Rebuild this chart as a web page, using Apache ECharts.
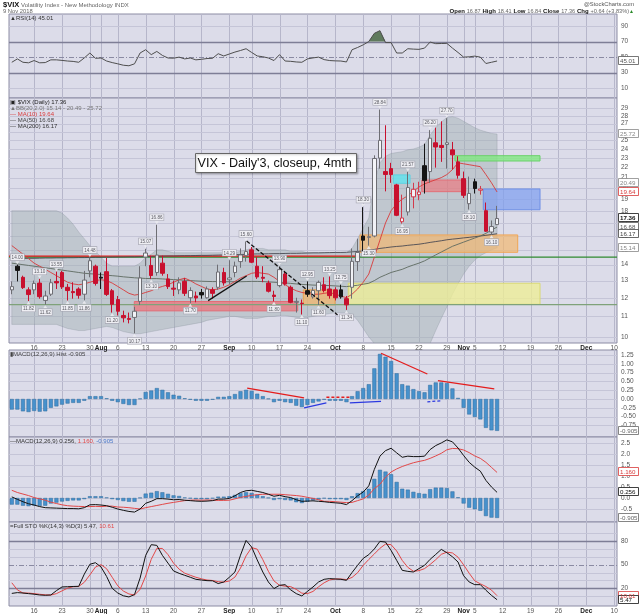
<!DOCTYPE html>
<html><head><meta charset="utf-8">
<script src="https://cdn.jsdelivr.net/npm/echarts@6/dist/echarts.min.js"></script>
<style>html,body{margin:0;padding:0;background:#fff}#c{width:640px;height:614px}</style>
</head><body><div id="c"></div>
<script>
// ---------- categories (trading days, incl. future weekdays shown on the axis) ----------
const dates = [
'07-10','07-11','07-12','07-13','07-16','07-17','07-18','07-19','07-20','07-23','07-24','07-25','07-26','07-27','07-30','07-31',
'08-01','08-02','08-03','08-06','08-07','08-08','08-09','08-10','08-13','08-14','08-15','08-16','08-17','08-20','08-21','08-22','08-23','08-24','08-27','08-28','08-29','08-30','08-31',
'09-04','09-05','09-06','09-07','09-10','09-11','09-12','09-13','09-14','09-17','09-18','09-19','09-20','09-21','09-24','09-25','09-26','09-27','09-28',
'10-01','10-02','10-03','10-04','10-05','10-08','10-09','10-10','10-11','10-12','10-15','10-16','10-17','10-18','10-19','10-22','10-23','10-24','10-25','10-26','10-29','10-30','10-31',
'11-01','11-02','11-05','11-06','11-07','11-08','11-09','11-12','11-13','11-14','11-15','11-16','11-19','11-20','11-21','11-22','11-23','11-26','11-27','11-28','11-29','11-30',
'12-03','12-04','12-05','12-06','12-07','12-10'];
const tickLabels = {'07-16':'16','07-23':'23','07-30':'30','08-01':'Aug','08-06':'6','08-13':'13','08-20':'20','08-27':'27',
 '09-04':'Sep','09-10':'10','09-17':'17','09-24':'24','10-01':'Oct','10-08':'8','10-15':'15','10-22':'22','10-29':'29',
 '11-01':'Nov','11-05':'5','11-12':'12','11-19':'19','11-26':'26','12-03':'Dec','12-10':'10'};
const monthTicks = ['08-01','09-04','10-01','11-01','12-03'];

// ---------- price data [open, close, low, high] ----------
const ohlc = [
[12.45,12.64,12.20,12.95],[13.90,13.63,12.95,14.00],[13.20,12.58,12.50,13.30],[12.45,12.18,11.82,12.60],[12.45,12.83,12.20,13.00],
[12.85,12.06,11.95,13.10],[11.85,12.10,11.62,12.40],[12.20,12.87,12.10,13.10],[12.95,12.86,12.50,13.55],[13.50,12.62,12.50,13.60],
[12.60,12.41,11.85,12.80],[12.35,12.29,11.95,12.90],[12.50,12.14,11.95,12.60],[12.20,13.03,11.86,13.60],[13.60,14.26,13.20,14.48],
[13.90,12.83,12.70,14.00],[13.20,13.15,12.50,13.50],[13.55,12.19,12.10,14.45],[12.40,11.64,11.20,12.50],[11.90,11.27,11.05,12.10],
[11.05,10.93,10.70,11.30],[10.90,10.85,10.65,11.20],[10.95,11.27,10.17,11.50],[11.80,13.16,11.60,13.90],[14.50,14.78,13.90,15.07],
[13.95,13.31,13.10,14.60],[13.50,14.64,13.30,16.86],[14.10,13.45,13.30,14.60],[13.10,12.64,12.50,13.40],[12.55,12.49,12.10,13.00],
[12.45,12.86,12.20,13.20],[12.95,12.25,12.10,13.15],[12.00,12.41,11.70,12.60],[12.10,11.99,11.75,12.35],[12.30,12.16,11.95,12.50],
[12.00,12.50,11.95,12.65],[12.45,12.25,11.95,12.60],[12.60,13.53,12.45,14.00],[13.50,12.86,12.70,13.80],[13.05,13.16,12.80,14.29],
[13.50,13.91,13.20,14.20],[14.20,14.65,13.80,15.10],[14.60,14.88,14.20,15.60],[15.00,14.16,14.10,15.20],[13.90,13.22,13.10,14.50],
[13.20,13.14,12.90,13.90],[12.85,12.37,12.30,13.00],[12.15,12.07,11.80,12.40],[12.70,13.68,12.60,13.90],[13.40,12.79,12.70,13.60],
[12.60,11.75,11.70,12.70],[11.75,11.80,11.20,12.00],[11.70,11.68,11.10,11.90],[12.40,12.20,12.05,12.95],[12.05,12.42,11.95,12.60],
[12.40,12.89,11.60,13.00],[12.75,12.41,12.30,13.20],[12.50,12.12,11.95,13.25],[12.45,12.00,11.85,12.60],[12.45,12.05,11.95,12.75],
[11.95,11.61,11.34,12.10],[12.60,14.22,11.95,15.10],[14.20,14.82,13.60,15.80],[16.00,15.69,14.90,18.30],[15.90,15.95,15.30,16.70],
[16.00,22.96,15.90,23.30],[23.00,24.98,21.90,28.84],[21.60,21.31,19.70,26.80],[21.90,21.30,20.50,22.50],[20.30,17.62,17.55,20.40],
[17.10,17.40,16.95,19.40],[17.90,20.06,17.60,21.57],[19.20,19.89,18.20,20.50],[19.40,19.64,18.90,20.60],[22.20,20.71,19.50,24.60],
[21.60,25.23,20.50,26.20],[24.70,24.22,22.00,26.50],[24.40,24.16,22.60,27.30],[24.50,24.70,21.90,27.70],[23.90,23.35,21.80,24.80],
[22.60,21.23,20.90,23.20],[20.90,19.34,19.10,21.60],[18.60,19.51,18.10,21.10],[20.60,19.96,19.50,20.90],[19.80,19.91,19.40,20.20],
[18.00,16.36,16.30,18.70],[16.30,16.72,16.10,17.20],[16.87,17.36,16.84,18.41]];

const bbUpper = [18.0,18.0,18.0,18.0,18.0,18.0,18.0,18.0,18.0,17.8,
 17.4,16.9,16.3,15.8,15.3,14.9,14.5,14.1,13.9,13.9,
 13.9,13.9,13.9,14.1,14.5,14.7,15.0,15.0,14.9,14.8,
 14.8,14.8,14.8,14.8,14.8,14.8,14.8,14.8,14.8,14.8,
 14.8,14.9,15.0,15.1,15.1,15.1,15.0,15.0,15.0,15.0,
 14.9,14.9,14.9,14.8,14.8,14.8,14.8,14.8,14.8,14.8,
 14.8,15.1,15.8,16.6,17.4,20.5,22.5,23.2,23.5,23.6,
 23.7,23.9,24.0,24.2,24.5,25.6,26.5,27.2,27.8,27.9,
 27.7,27.3,26.9,26.5,26.2,26.0,25.8,25.72];
const bbLower = [10.6,10.6,10.6,10.6,10.6,10.6,10.6,10.6,10.6,10.5,
 10.4,10.35,10.3,10.3,10.35,10.4,10.45,10.5,10.45,10.35,
 10.25,10.2,10.15,10.15,10.2,10.25,10.3,10.35,10.4,10.45,
 10.5,10.55,10.6,10.65,10.7,10.8,10.85,10.9,10.95,11.0,
 11.0,10.95,10.9,10.9,10.9,10.95,11.0,11.0,11.05,11.05,
 11.0,10.95,10.9,10.95,11.0,11.05,11.1,11.15,11.2,11.2,
 11.2,11.1,10.8,10.4,10.0,9.7,9.7,9.7,9.7,9.7,
 9.7,9.7,9.7,9.7,9.7,9.7,10.3,10.9,11.5,12.2,
 12.8,13.4,13.9,14.3,14.6,14.8,15.0,15.14];
const ma10 = [15.3,15.0,14.7,14.4,14.1,13.9,13.7,13.5,13.3,13.1,
 12.9,12.8,12.75,12.8,12.9,13.0,13.05,13.0,12.85,12.65,
 12.45,12.25,12.15,12.2,12.3,12.4,12.55,12.65,12.75,12.9,
 13.05,13.15,13.0,12.8,12.65,12.5,12.45,12.5,12.6,12.75,
 12.95,13.15,13.3,13.45,13.5,13.45,13.4,13.2,12.95,12.75,
 12.55,12.4,12.3,12.25,12.2,12.2,12.25,12.3,12.2,12.1,
 12.0,12.2,12.5,12.9,13.4,14.5,15.7,17.0,18.0,18.6,
 19.0,19.3,19.7,20.1,20.4,20.6,20.8,21.0,21.3,21.8,
 22.5,22.4,22.3,22.2,22.1,21.3,20.5,19.64];
const ma50 = [14.1,14.05,14.0,13.95,13.9,13.85,13.8,13.75,13.7,13.65,
 13.6,13.55,13.5,13.45,13.42,13.4,13.37,13.33,13.3,13.27,
 13.23,13.2,13.17,13.15,13.13,13.12,13.12,13.1,13.08,13.06,
 13.04,13.02,13.0,12.98,12.96,12.95,12.94,12.94,12.93,12.93,
 12.93,12.93,12.94,12.95,12.95,12.94,12.92,12.9,12.88,12.86,
 12.83,12.8,12.77,12.75,12.73,12.72,12.71,12.7,12.68,12.66,
 12.64,12.68,12.72,12.78,12.84,13.0,13.2,13.35,13.5,13.6,
 13.7,13.85,13.98,14.1,14.25,14.45,14.65,14.85,15.05,15.25,
 15.4,15.55,15.7,15.85,16.0,16.2,16.45,16.68];
const ma200 = [14.40,14.41,14.41,14.42,14.42,14.43,14.44,14.44,14.45,14.45,
 14.46,14.46,14.47,14.47,14.48,14.49,14.49,14.50,14.50,14.51,
 14.51,14.52,14.52,14.53,14.54,14.55,14.56,14.57,14.58,14.58,
 14.59,14.60,14.60,14.61,14.62,14.62,14.63,14.64,14.65,14.66,
 14.67,14.68,14.69,14.71,14.72,14.72,14.73,14.74,14.74,14.75,
 14.76,14.76,14.77,14.78,14.79,14.79,14.80,14.81,14.82,14.82,
 14.83,14.86,14.89,14.93,14.97,15.03,15.10,15.15,15.20,15.24,
 15.27,15.32,15.36,15.40,15.46,15.53,15.59,15.65,15.72,15.77,
 15.81,15.86,15.90,15.95,16.00,16.05,16.11,16.17];

// ---------- indicators ----------
const rsi = [43.4,47.7,43.4,42.7,45.6,42.7,43.0,46.5,46.5,45.8,
 45.0,44.5,43.4,49.0,55.3,48.5,48.9,45.0,43.0,41.4,
 39.6,38.9,41.4,55.3,59.5,53.2,57.3,52.2,48.9,48.6,
 50.0,47.7,48.9,46.5,47.2,48.2,48.5,54.4,51.5,54.0,
 56.5,58.5,60.8,56.0,51.5,50.5,48.9,45.6,53.2,45.0,
 44.6,43.8,43.4,47.7,49.0,50.0,46.8,45.6,45.2,45.0,
 43.8,59.5,62.4,65.8,70.0,80.6,84.0,68.7,68.7,55.3,
 55.3,60.8,60.3,60.0,61.6,69.4,67.3,67.5,67.7,61.6,
 56.0,50.0,50.4,51.3,50.0,41.8,43.4,45.01];
const macdHist = [-0.30,-0.30,-0.35,-0.37,-0.34,-0.36,-0.35,-0.25,-0.21,-0.16,
 -0.13,-0.11,-0.11,-0.05,0.08,0.08,0.08,0.02,-0.05,-0.09,
 -0.14,-0.17,-0.17,0.01,0.20,0.24,0.31,0.26,0.19,0.12,
 0.09,0.02,-0.02,-0.05,-0.05,-0.05,-0.02,0.06,0.06,0.08,
 0.14,0.22,0.26,0.23,0.15,0.08,0.01,-0.09,-0.05,-0.09,
 -0.11,-0.19,-0.23,-0.17,-0.11,-0.07,-0.02,-0.05,-0.05,-0.05,
 -0.09,0.08,0.22,0.31,0.42,0.87,1.28,1.20,1.08,0.73,
 0.42,0.38,0.28,0.22,0.19,0.40,0.47,0.47,0.45,0.30,
 0.03,-0.25,-0.44,-0.51,-0.58,-0.82,-0.89,-0.905];
const macdLine = [0.05,-0.06,-0.17,-0.26,-0.32,-0.39,-0.44,-0.45,-0.46,-0.47,
 -0.48,-0.48,-0.49,-0.44,-0.31,-0.30,-0.32,-0.35,-0.42,-0.50,
 -0.56,-0.61,-0.64,-0.50,-0.24,-0.15,-0.03,-0.03,-0.05,-0.08,
 -0.07,-0.10,-0.12,-0.14,-0.15,-0.14,-0.12,-0.05,-0.05,-0.02,
 0.10,0.25,0.33,0.35,0.30,0.25,0.17,0.08,0.12,0.06,
 0.02,-0.08,-0.15,-0.14,-0.13,-0.15,-0.17,-0.20,-0.22,-0.24,
 -0.30,-0.12,0.10,0.27,0.55,1.30,1.90,2.15,2.26,2.05,
 1.85,1.90,1.88,1.88,1.90,2.20,2.38,2.50,2.64,2.55,
 2.27,1.93,1.62,1.40,1.22,0.80,0.50,0.256];
const macdSignal = [0.35,0.25,0.18,0.11,0.02,-0.04,-0.10,-0.19,-0.25,-0.31,
 -0.35,-0.37,-0.38,-0.39,-0.39,-0.38,-0.39,-0.37,-0.37,-0.41,
 -0.42,-0.44,-0.47,-0.50,-0.44,-0.39,-0.34,-0.29,-0.24,-0.20,
 -0.16,-0.12,-0.10,-0.09,-0.10,-0.09,-0.10,-0.11,-0.11,-0.10,
 -0.04,0.03,0.07,0.12,0.15,0.17,0.17,0.17,0.17,0.15,
 0.13,0.11,0.08,0.03,-0.02,-0.08,-0.15,-0.15,-0.17,-0.19,
 -0.21,-0.20,-0.12,-0.04,0.13,0.43,0.62,0.95,1.18,1.32,
 1.43,1.52,1.60,1.66,1.71,1.80,1.91,2.03,2.19,2.25,
 2.24,2.18,2.06,1.91,1.80,1.62,1.39,1.16];
const stoK = [13.5,14.5,14.0,13.2,12.5,11.5,11.1,11.5,17.0,21.7,
 22.0,22.3,22.5,38.0,50.5,52.5,47.0,35.0,20.0,14.0,
 10.5,9.0,12.0,33.0,61.8,75.4,74.5,61.8,52.0,42.0,
 39.0,36.5,34.0,31.4,30.5,29.7,29.5,26.0,28.0,34.0,
 40.7,62.0,80.8,72.4,56.0,40.7,28.0,19.6,23.8,24.6,
 18.0,13.2,10.3,16.0,21.7,28.0,31.4,32.3,31.8,31.4,
 30.1,40.0,49.2,58.0,62.7,70.0,79.6,78.7,68.0,55.5,
 42.8,41.5,40.7,45.0,49.2,56.8,63.0,69.4,65.2,60.0,
 53.4,36.0,28.0,24.6,24.6,17.5,11.0,5.47];
const stoD = [27.0,18.0,14.0,13.9,13.2,12.4,11.7,11.4,13.2,16.7,
 20.2,22.0,22.3,27.6,37.0,47.0,50.0,44.8,34.0,23.1,
 16.5,12.8,11.5,18.5,35.6,56.8,70.6,70.6,62.8,51.9,
 44.3,39.2,36.5,34.0,32.0,30.5,29.9,28.4,27.8,29.3,
 34.2,45.6,61.2,71.7,69.7,56.4,41.6,29.4,23.8,22.7,
 22.1,18.6,13.8,13.2,16.0,21.9,27.0,30.6,31.8,31.8,
 31.1,33.8,39.8,49.1,56.6,63.6,70.8,76.1,75.4,67.4,
 55.4,46.6,41.7,42.4,45.0,50.3,56.3,63.1,65.9,64.9,
 59.5,49.8,39.1,29.5,25.7,22.2,17.7,10.61];

// ---------- tick values ----------
const rsiTicks = [10,30,50,70,90];
const priceTicks = [10,11,12,13,14,15,16,17,18,19,20,21,22,23,24,25,26,27,28,29];
const histTicks = [-0.75,-0.5,-0.25,0,0.25,0.5,0.75,1.0,1.25];
const macdTicks = [-0.5,0,0.5,1.0,1.5,2.0,2.5];
const stoTicks = [20,50,80];

// ---------- chart annotations (day index, price) ----------
const zoneBoxes = [
 [21.96,51.26,11.29,11.79],[52.26,57.95,11.61,12.45],[60.33,94.7,11.64,12.84],[62.43,90.7,14.83,16.08],
 [68.4,71.4,20.45,21.27],[73.5,81.4,19.67,20.77],[79.46,94.7,22.69,23.26],[84.53,94.7,18.08,19.92]];
const zoneStyles = [
 ['rgba(238,112,118,0.70)','#e36a74'],['rgba(242,182,104,0.72)','#eda24a'],['rgba(238,238,150,0.78)','#d9d974'],
 ['rgba(242,184,112,0.70)','#f0a654'],['rgba(100,226,236,0.85)','#5fd2e0'],['rgba(236,120,126,0.68)','#e27078'],
 ['rgba(130,232,130,0.80)','#6bd06b'],['rgba(128,160,240,0.72)','#6f8fe6']];
const trendLines = [[[35.2,11.84],[42.1,13.28]],[[42.1,15.64],[58.4,11.08]]];
const levelLines = [[-0.5,62.3,14.57],[-0.5,108.5,14.50],[-0.5,108.5,11.62]];
const histLines = [[[42.2,0.31],[52.4,0.03]],[[66.2,1.30],[74.5,0.71]],[[76.4,0.52],[86.5,0.29]],[[56.4,0.05],[60.8,0.05]],
 [[52.4,-0.25],[56.4,-0.11]],[[60.6,-0.11],[66.2,-0.07]],[[74.5,-0.08],[77.1,-0.05]]];
const highTags = [1,5,8,14,24,26,39,42,48,53,57,59,63,66,71,75,78];
const lowTags = [3,6,10,13,18,22,25,32,47,52,55,60,64,70,82,86];

// ================= build =================
const FONT = 'Liberation Sans, Arial, sans-serif';
const chart = echarts.init(document.getElementById('c'));
const gridDefs = [[14,84],[98,245],[350,87],[437,85],[522,84]];
const grids = gridDefs.map(([t,h]) => ({left:9, right:23, top:t, height:h, show:true, backgroundColor:'#dcdce9',
  borderColor:'#8c8ca4', borderWidth:1, containLabel:false, outerBoundsMode:'none'}));
const xAxes = gridDefs.map((g,k) => ({type:'category', gridIndex:k, data:dates, boundaryGap:true,
  axisLine:{show:false}, axisTick:{show:false}, splitLine:{show:false},
  axisLabel:(k===1||k===4) ? {show:true, interval:(i,v)=>!!tickLabels[v], margin:2, fontSize:6.5, color:'#555', fontFamily:FONT,
    formatter:v => monthTicks.includes(v) ? '{m|'+tickLabels[v]+'}' : (tickLabels[v]||''),
    rich:{m:{fontWeight:'bold', color:'#222', fontSize:6.5, fontFamily:FONT}}} : {show:false}}));
xAxes.push({type:'value', gridIndex:1, min:-0.5, max:108.5, show:false});
xAxes.push({type:'value', gridIndex:2, min:-0.5, max:108.5, show:false});
const yAxes = [
 {type:'value', gridIndex:0, min:-2.5, max:105.4, show:false},
 {type:'log', gridIndex:1, logBase:10, min:9.72, max:30.43, show:false},
 {type:'value', gridIndex:2, min:-1.08, max:1.392, show:false},
 {type:'value', gridIndex:3, min:-1.09, max:2.77, show:false},
 {type:'value', gridIndex:4, min:-2.5, max:104.2, show:false}];

const LSTY = {l:{stroke:'#c5c5d7', lineWidth:1}, d:{stroke:'#7e7e96', lineWidth:1.3}, dd:{stroke:'#8a8aa2', lineWidth:1, lineDash:[5,2,1,2]}};
function gridSeries(k, levels){
  return {type:'custom', xAxisIndex:k, yAxisIndex:k, data:[0], silent:true, z:1,
    renderItem(params, api){
      const cs = params.coordSys; const ch = [];
      const ref = levels[0][0];
      dates.forEach((d,i) => { if (tickLabels[d]) {
        const x = Math.round(api.coord([i, ref])[0]) + 0.5;
        ch.push({type:'line', shape:{x1:x, y1:cs.y, x2:x, y2:cs.y+cs.height}, style:{stroke:'#b6b6ca', lineWidth:1}});
      }});
      levels.forEach(([v,kind]) => {
        const y = Math.round(api.coord([0, v])[1]) + 0.5;
        ch.push({type:'line', shape:{x1:cs.x, y1:y, x2:cs.x+cs.width, y2:y}, style:Object.assign({}, LSTY[kind])});
      });
      return {type:'group', children:ch};
    }};
}
const series = [];
series.push(gridSeries(0, [[90,'l'],[10,'l'],[70,'d'],[30,'d'],[50,'dd']]));
series.push(gridSeries(1, priceTicks.map(v=>[v,'l'])));
series.push(gridSeries(2, histTicks.map(v=>[v,'l'])));
series.push(gridSeries(3, macdTicks.map(v=>[v,'l'])));
series.push(gridSeries(4, [[10,'l'],[30,'l'],[40,'l'],[60,'l'],[70,'l'],[90,'l'],[80,'d'],[20,'d'],[50,'dd']]));

// RSI
series.push({type:'line', xAxisIndex:0, yAxisIndex:0, data:rsi.map(v=>Math.max(v,70)), symbol:'none', silent:true, z:2,
  lineStyle:{opacity:0}, areaStyle:{origin:70, color:'#5f7a5d', opacity:1}});
series.push({type:'line', xAxisIndex:0, yAxisIndex:0, data:rsi, symbol:'none', silent:true, z:3, lineStyle:{color:'#4e4e4e', width:1}});

// Main: Bollinger band
series.push({type:'custom', xAxisIndex:1, yAxisIndex:1, data:[0], silent:true, z:2, clip:true,
  renderItem(params, api){
    const pts = [];
    for (let i=0;i<bbUpper.length;i++) pts.push(api.coord([i, bbUpper[i]]));
    for (let i=bbLower.length-1;i>=0;i--) pts.push(api.coord([i, bbLower[i]]));
    const cs = params.coordSys;
    return {type:'polygon', shape:{points:pts}, style:{fill:'rgba(158,172,176,0.45)', stroke:'rgba(130,140,150,0.5)', lineWidth:0.6},
      clipPath:{type:'rect', shape:{x:cs.x, y:cs.y, width:cs.width, height:cs.height}}};
  }});
// zones
series.push({type:'custom', xAxisIndex:5, yAxisIndex:1, data:zoneBoxes.map((b,i)=>[...b,i]), silent:true, z:3,
  renderItem(params, api){
    const p1 = api.coord([api.value(0), api.value(3)]); const p2 = api.coord([api.value(1), api.value(2)]);
    const st = zoneStyles[api.value(4)];
    return {type:'rect', shape:{x:p1[0], y:p1[1], width:p2[0]-p1[0], height:p2[1]-p1[1]}, style:{fill:st[0], stroke:st[1], lineWidth:1}};
  }});
// horizontal level lines
const lvlColors = ['#e01818','#2f8a2f','#7fa27a'];
[1,0,2].forEach(j => {
  const [a,b,v] = levelLines[j];
  series.push({type:'line', xAxisIndex:5, yAxisIndex:1, data:[[a,v],[b,v]], symbol:'none', silent:true, z:4,
    lineStyle:{color:lvlColors[j], width:1.3}});
});
// moving averages
series.push({type:'line', xAxisIndex:1, yAxisIndex:1, data:ma200, symbol:'none', silent:true, z:4, lineStyle:{color:'#4a4a52', width:0.9}});
series.push({type:'line', xAxisIndex:1, yAxisIndex:1, data:ma50, symbol:'none', silent:true, z:4, lineStyle:{color:'#5d6a60', width:0.9}});
series.push({type:'line', xAxisIndex:1, yAxisIndex:1, data:ma10, symbol:'none', silent:true, z:4, lineStyle:{color:'#d83a3a', width:0.9}});
// candles
const candleData = ohlc.map((d,i) => {
  const prev = i>0 ? ohlc[i-1][1] : d[1];
  const up = d[1] >= prev, hollow = d[1] > d[0];
  let fill, stroke;
  if (hollow) { fill = 'rgba(246,246,250,0.9)'; stroke = up ? '#6e6e74' : '#d23a4c'; }
  else { fill = up ? '#151515' : '#c8102e'; stroke = fill; }
  return {value:d, itemStyle:{color:fill, color0:fill, borderColor:stroke, borderColor0:stroke, borderWidth:1}};
});
const tagLabel = {show:true, fontSize:4.6, fontFamily:FONT, color:'#5a5a62', backgroundColor:'#eeeef3', borderColor:'#a4a4b0',
  borderWidth:0.6, padding:[1,1,0,1], formatter:p => p.value};
series.push({type:'candlestick', xAxisIndex:1, yAxisIndex:1, data:candleData, barWidth:4, z:5, silent:true,
  markPoint:{symbol:'triangle', symbolSize:[4,3], itemStyle:{color:'rgba(235,235,240,0.9)'}, silent:true,
    data:[...highTags.map(i => ({coord:[dates[i], ohlc[i][3]], symbolRotate:180, symbolOffset:[0,-2], value:ohlc[i][3].toFixed(2), label:Object.assign({}, tagLabel, {position:'top', distance:1})})),
          ...lowTags.map(i => ({coord:[dates[i], ohlc[i][2]], symbolOffset:[0,2], value:ohlc[i][2].toFixed(2), label:Object.assign({}, tagLabel, {position:'bottom', distance:1})}))]}});
// trend lines
trendLines.forEach((pts,j) => series.push({type:'line', xAxisIndex:5, yAxisIndex:1, data:pts, symbol:'none', silent:true, z:6,
  lineStyle:{color:'#111', width:1.3, type: j===1 ? [4,2] : 'solid'}}));

// MACD histogram panel
series.push({type:'bar', xAxisIndex:2, yAxisIndex:2, data:macdHist, barWidth:4, silent:true, z:3,
  itemStyle:{color:'#4791cc', borderColor:'#2c6a9c', borderWidth:0.5}});
histLines.forEach((pts,j) => series.push({type:'line', xAxisIndex:6, yAxisIndex:2, data:pts, symbol:'none', silent:true, z:6,
  lineStyle:{color: j<4 ? '#e41c1c' : '#2b39e0', width:1.3, type:(j===3||j===6) ? [3,2] : 'solid'}}));

// MACD panel
series.push({type:'bar', xAxisIndex:3, yAxisIndex:3, data:macdHist, barWidth:4, silent:true, z:3,
  itemStyle:{color:'#4791cc', borderColor:'#2c6a9c', borderWidth:0.5}});
series.push({type:'line', xAxisIndex:3, yAxisIndex:3, data:macdSignal, symbol:'none', silent:true, z:4, lineStyle:{color:'#e24848', width:1}});
series.push({type:'line', xAxisIndex:3, yAxisIndex:3, data:macdLine, symbol:'none', silent:true, z:5, lineStyle:{color:'#111', width:1}});

// Full STO panel
series.push({type:'line', xAxisIndex:4, yAxisIndex:4, data:stoD, symbol:'none', silent:true, z:4, lineStyle:{color:'#e24848', width:1}});
series.push({type:'line', xAxisIndex:4, yAxisIndex:4, data:stoK, symbol:'none', silent:true, z:5, lineStyle:{color:'#111', width:1}});

chart.setOption({animation:false, backgroundColor:'#fff', grid:grids, xAxis:xAxes, yAxis:yAxes, series});

// ---------- text overlays ----------
const G = [];
function T(x, y, text, o){ return {type:'text', x, y, silent:true, z:100,
  style:Object.assign({text, fontSize:6.5, fontFamily:FONT, fill:'#555', align:'left', textAlign:'left', verticalAlign:'middle', textVerticalAlign:'middle'}, o||{})}; }
const yp = (k, v) => chart.convertToPixel({yAxisIndex:k}, v);
function box(k, v, text, color, bold){
  const y = Math.round(yp(k, v));
  G.push({type:'rect', silent:true, z:101, shape:{x:618.5, y:y-4.5, width:20, height:8}, style:{fill:'#fff', stroke:color, lineWidth:0.8}});
  G.push(Object.assign(T(620, y, text, {fill:color, fontSize:6.2, fontWeight:bold?'bold':'normal'}), {z:102}));
}
// axis tick labels
rsiTicks.forEach(v => G.push(T(621, yp(0,v), String(v))));
priceTicks.forEach(v => G.push(T(621, yp(1,v), String(v))));
histTicks.forEach(v => G.push(T(621, yp(2,v), v.toFixed(2))));
macdTicks.forEach(v => G.push(T(621, yp(3,v), v.toFixed(1))));
stoTicks.forEach(v => G.push(T(621, yp(4,v), String(v))));
// value boxes
box(0, 45.01, '45.01', '#555');
box(1, 25.72, '25.72', '#888'); box(1, 20.49, '20.49', '#888'); box(1, 19.64, '19.64', '#d83a3a');
box(1, 17.36, '17.36', '#111', true); box(1, 16.68, '16.68', '#555'); box(1, 16.17, '16.17', '#444'); box(1, 15.14, '15.14', '#888');
box(2, -0.905, '-0.905', '#666');
box(3, 1.16, '1.160', '#d83a3a'); box(3, 0.256, '0.256', '#111'); box(3, -0.905, '-0.905', '#666');
box(4, 10.61, '10.61', '#d83a3a'); box(4, 5.47, '5.47', '#111');

// header
G.push(T(3, 5, '{a|$VIX} {b|Volatility Index - New Methodology INDX}', {rich:{a:{fontSize:7.5, fontWeight:'bold', fill:'#111', fontFamily:FONT}, b:{fontSize:6, fill:'#666', fontFamily:FONT}}}));
G.push(T(3, 11.5, '9 Nov 2018', {fontSize:5.8, fill:'#666'}));
G.push(T(634, 4.5, '@StockCharts.com', {fontSize:5.8, fill:'#555', align:'right', textAlign:'right'}));
G.push(T(634, 11.5, '{k|Open} {v|16.87} {k|High} {v|18.41} {k|Low} {v|16.84} {k|Close} {v|17.36} {k|Chg} {v|+0.64 (+3.83%)}{u|▲}',
  {align:'right', textAlign:'right', rich:{k:{fontSize:6, fontWeight:'bold', fill:'#111', fontFamily:FONT}, v:{fontSize:5.6, fill:'#666', fontFamily:FONT}, u:{fontSize:5, fill:'#2a8a2a'}}}));
// panel legends
G.push(T(10, 18, '▲RSI(14) 45.01', {fontSize:6, fill:'#333'}));
G.push(T(10, 102, '▣ $VIX (Daily) 17.36', {fontSize:6, fill:'#222'}));
G.push(T(10, 108, '▲BB(20,2.0) 15.14 - 20.49 - 25.72', {fontSize:6, fill:'#777'}));
G.push(T(10, 114, '— MA(10) 19.64', {fontSize:6, fill:'#d83a3a'}));
G.push(T(10, 120, '— MA(50) 16.68', {fontSize:6, fill:'#444'}));
G.push(T(10, 126, '— MA(200) 16.17', {fontSize:6, fill:'#333'}));
G.push(T(10, 354.5, '▮MACD(12,26,9) Hist -0.905', {fontSize:6, fill:'#444'}));
G.push(T(10, 441, '{k|—MACD(12,26,9) 0.256,} {r|1.160,} {b|-0.905}', {rich:{k:{fontSize:6, fill:'#333', fontFamily:FONT}, r:{fontSize:6, fill:'#e24848', fontFamily:FONT}, b:{fontSize:6, fill:'#4a78c8', fontFamily:FONT}}}));
G.push(T(10, 526, '{k|=Full STO %K(14,3) %D(3) 5.47,} {r|10.61}', {rich:{k:{fontSize:6, fill:'#333', fontFamily:FONT}, r:{fontSize:6, fill:'#e24848', fontFamily:FONT}}}));
// annotation text box
G.push({type:'rect', silent:true, z:110, shape:{x:195.5, y:153.5, width:161, height:19}, style:{fill:'#fff', stroke:'#666', lineWidth:1, shadowBlur:2, shadowColor:'rgba(0,0,0,0.25)', shadowOffsetX:1, shadowOffsetY:1}});
G.push(Object.assign(T(197.5, 163.5, "VIX - Daily'3, closeup, 4mth", {fontSize:12.6, fill:'#111'}), {z:111}));

chart.setOption({graphic:G});
</script></body></html>
